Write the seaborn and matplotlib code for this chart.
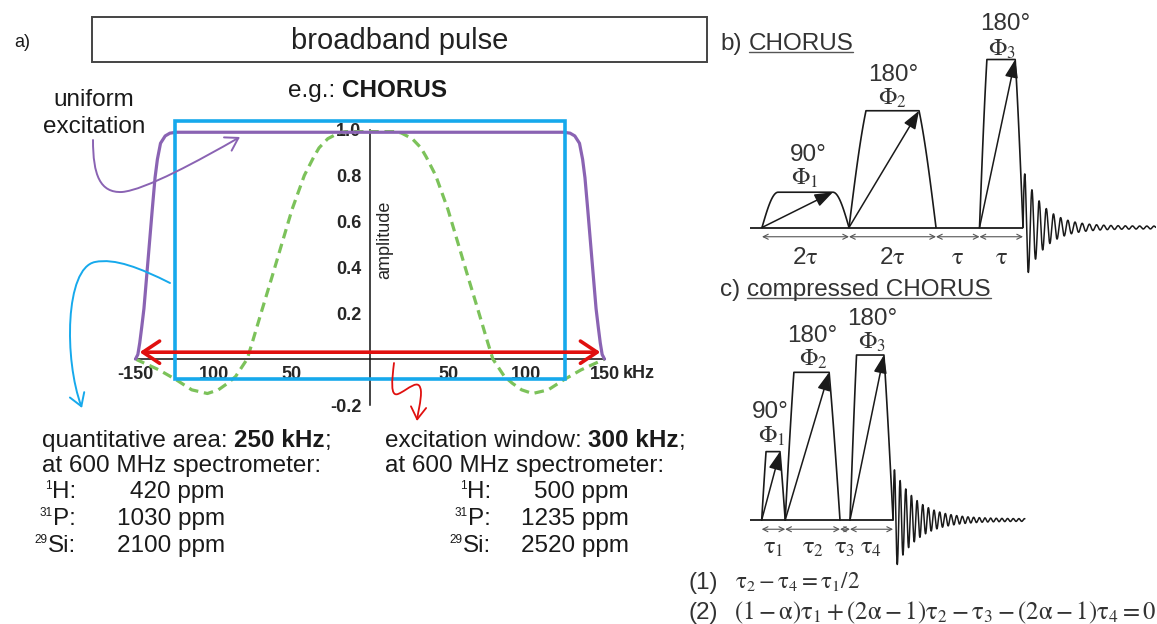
import numpy as np
import matplotlib
matplotlib.use("Agg")
import matplotlib.pyplot as plt
import seaborn as sns
from matplotlib.patches import Rectangle, FancyArrowPatch
from matplotlib.path import Path

# ---------------- excitation profiles (offset in kHz, normalised amplitude) ----------------
chorus_offset = [-150, -148.5, -147.3, -146, -144.6, -142, -139.3, -137.5, -136, -134,
                 -131, -128, -124, 0, 124, 128, 131, 134, 136, 137.5, 139.3, 142,
                 144.6, 146, 147.3, 148.5, 150]
chorus_amp = [0.0, 0.02, 0.07, 0.14, 0.22, 0.43, 0.65, 0.79, 0.87, 0.94,
              0.972, 0.984, 0.988, 0.988, 0.988, 0.984, 0.972, 0.94, 0.87, 0.79, 0.65, 0.43,
              0.22, 0.14, 0.07, 0.02, 0.0]

single_offset = [-150, -142, -135, -124, -114, -104, -97, -91, -86, -82,
                 -78.6, -75.4, -69, -62.6, -56.2, -49.8, -42, -36, -32.6, -27,
                 -20, -11.5, 0, 11.5, 20, 27, 32.6, 36, 42, 49.8,
                 56.2, 62.6, 69, 75.4, 78.6, 82, 86, 91, 97, 104,
                 114, 124, 135, 142, 150]
single_amp = [0.0, -0.025, -0.047, -0.09, -0.134, -0.15, -0.134, -0.105, -0.076, -0.035,
              0.0, 0.07, 0.216, 0.36, 0.507, 0.653, 0.80, 0.88, 0.92, 0.96,
              0.985, 0.997, 1.0, 0.997, 0.985, 0.96, 0.92, 0.88, 0.80, 0.653,
              0.507, 0.36, 0.216, 0.07, 0.0, -0.035, -0.076, -0.105, -0.134, -0.15,
              -0.134, -0.09, -0.047, -0.025, 0.0]

quant_window_khz = 250
excite_window_khz = 300

ytick_vals = [-0.2, 0.2, 0.4, 0.6, 0.8, 1.0]
xtick_vals = [-150, -100, -50, 50, 100, 150]
xtick_text = ["-150", "100", "50", "50", "100", "150"]

# bandwidth converted to ppm at a 600 MHz spectrometer
nuclei_mass = ["1", "31", "29"]
nuclei_symbol = ["H", "P", "Si"]
ppm_quant = [420, 1030, 2100]
ppm_excite = [500, 1235, 2520]

# ---------------- pulse sequences (time in units of tau) ----------------
chorus_delays = [2, 2, 1, 1]
chorus_delay_text = [r"2$\mathrm{\tau}$", r"2$\mathrm{\tau}$", r"$\mathrm{\tau}$", r"$\mathrm{\tau}$"]
chorus_pulses = [(0, 2), (2, 4), (5, 6)]
chorus_height = [0.21, 0.695, 1.0]
chorus_rise = [0.37, 0.39, 0.17]
chorus_fall = [0.37, 0.39, 0.18]
chorus_round = [1.0, 0.3, 0.25]

comp_tau1, comp_tau4, comp_tau3 = 0.54, 0.99, 0.23
comp_tau2 = comp_tau4 + comp_tau1 / 2
comp_delays = [comp_tau1, comp_tau2, comp_tau3, comp_tau4]
comp_delay_text = [r"$\mathrm{\tau_1}$", r"$\mathrm{\tau_2}$", r"$\mathrm{\tau_3}$", r"$\mathrm{\tau_4}$"]
comp_height = [0.407, 0.879, 0.982]
comp_rise = [0.10, 0.20, 0.15]
comp_fall = [0.12, 0.25, 0.21]
comp_round = [0.1, 0.15, 0.15]

flip_text = ["90°", "180°", "180°"]
phase_text = [r"$\Phi_1$", r"$\Phi_2$", r"$\Phi_3$"]

# ---------------- style ----------------
sns.set_style("white")
plt.rcParams["font.family"] = ["Liberation Sans", "DejaVu Sans"]
PURPLE = "#8a63b3"
GREEN = "#7cc25a"
BLUE = "#16a9ec"
RED = "#e0100f"
INK = "#1a1a1a"
GREY = "#333333"
TXT = 17.5

W, H = 1157, 624
fig = plt.figure(figsize=(W / 100, H / 100), dpi=100)
fig.patch.set_facecolor("white")


def px_axes(left, right, top, bottom, **kw):
    return fig.add_axes([left / W, 1 - bottom / H, (right - left) / W, (bottom - top) / H], **kw)


# ---------------- a) excitation profile ----------------
ax = px_axes(135.5, 604.5, 129.5, 405)
ax.patch.set_alpha(0)
ax.set_xlim(-150, 150)
ax.set_ylim(-0.2, 1.0)

sns.lineplot(x=single_offset, y=single_amp, ax=ax, color=GREEN, lw=2.3,
             linestyle=(0, (3, 1.8)), zorder=2)
sns.lineplot(x=chorus_offset, y=chorus_amp, ax=ax, color=PURPLE, lw=2.3, zorder=3,
             clip_on=False)

half_q = quant_window_khz / 2
ax.add_patch(Rectangle((-half_q, -0.087), 2 * half_q, 1.123, fill=False,
                       edgecolor=BLUE, lw=2.6, clip_on=False, zorder=4))

half_e = excite_window_khz / 2
ax.annotate("", xy=(half_e, 0.03), xytext=(-half_e, 0.03),
            arrowprops=dict(arrowstyle="<->,head_length=0.75,head_width=0.5",
                            mutation_scale=16, color=RED, lw=2.6,
                            shrinkA=3, shrinkB=3),
            zorder=5, annotation_clip=False)

for side in ("top", "right"):
    ax.spines[side].set_visible(False)
ax.spines["left"].set_position(("data", 0))
ax.spines["bottom"].set_position(("data", 0))
for side in ("left", "bottom"):
    ax.spines[side].set_linewidth(1.1)
    ax.spines[side].set_color("#111111")
    ax.spines[side].set_zorder(1)

ax.set_xticks(xtick_vals)
ax.set_xticks(np.arange(-150, 151, 10), minor=True)
ax.set_xticklabels(xtick_text, fontweight="bold", fontsize=13)
ax.set_yticks(ytick_vals)
ax.set_yticklabels([f"{v:.1f}" for v in ytick_vals], fontweight="bold", fontsize=13)
ax.tick_params(axis="x", which="both", direction="out", length=3.8, width=1.0,
               pad=1.2, color="#111111")
ax.tick_params(axis="y", which="both", direction="out", length=3.8, width=1.0,
               pad=2.5, color="#111111")
ax.set_xlabel("")
ax.set_ylabel("")
ax.annotate("kHz", xy=(150, 0), xytext=(13, -10.5), textcoords="offset points",
            ha="left", va="center", fontsize=13, fontweight="bold")
ax.text(9.5, 0.52, "amplitude", rotation=90, ha="center", va="center", fontsize=13)


# ---------------- pulse-sequence schematics ----------------
def pulse_outline(t0, t1, h, rise, fall, rnd):
    s = np.linspace(0, 1, 40)
    shape = (1 - rnd) * s + rnd * np.sin(np.pi / 2 * s)
    x = np.concatenate([t0 + rise * s, t1 - fall * s[::-1]])
    y = np.concatenate([h * shape, h * shape[::-1]])
    return x, y


def draw_sequence(sax, pulses, heights, rise, fall, rnd, delays, delay_text,
                  label_pos, t_end, fid_amp, fid_decay, fid_period, fid_floor, x0):
    t_fid = pulses[-1][1]
    sax.plot([x0, t_fid], [0, 0], color=INK, lw=1.3, solid_capstyle="butt")
    for (t0, t1), h, r, f, rr in zip(pulses, heights, rise, fall, rnd):
        px, py = pulse_outline(t0, t1, h, r, f, rr)
        sax.plot(px, py, color=INK, lw=1.2)
        sax.annotate("", xy=(t1 - f, h), xytext=(t0, 0),
                     arrowprops=dict(arrowstyle="-|>,head_length=0.55,head_width=0.2",
                                     mutation_scale=20, color=INK, lw=1.1,
                                     shrinkA=0, shrinkB=0))
    # evolution periods
    edges = np.concatenate([[0], np.cumsum(delays)])
    for a, b, lab in zip(edges[:-1], edges[1:], delay_text):
        sax.annotate("", xy=(b, -0.055), xytext=(a, -0.055),
                     arrowprops=dict(arrowstyle="<->,head_length=0.4,head_width=0.2",
                                     mutation_scale=9, color="#555555", lw=0.8,
                                     shrinkA=0, shrinkB=0))
        sax.text((a + b) / 2, label_pos["delay_y"], lab, ha="center", va="center",
                 fontsize=TXT, color=GREY, math_fontfamily="stix")
    for (fx, fy), (qx, qy), ft, pt in zip(label_pos["flip"], label_pos["phase"],
                                          flip_text, phase_text):
        sax.text(fx, fy, ft, ha="center", va="center", fontsize=TXT, color=GREY)
        sax.text(qx, qy, pt, ha="center", va="center", fontsize=TXT, color=GREY,
                 math_fontfamily="stix")
    # free induction decay
    t = np.linspace(t_fid, t_end, 2500)
    env = fid_amp * np.exp(-fid_decay * (t - t_fid)) + fid_floor
    sax.plot(t, env * np.sin(2 * np.pi * (t - t_fid) / fid_period), color=INK, lw=1.1)
    sax.axis("off")


bax = px_axes(748.95, 1155.7, 17.5, 303.1)
bax.set_xlim(-0.3, 9.05)
bax.set_ylim(-0.45, 1.25)
draw_sequence(bax, chorus_pulses, chorus_height, chorus_rise, chorus_fall, chorus_round,
              chorus_delays, chorus_delay_text,
              dict(delay_y=-0.18,
                   flip=[(1.06, 0.43), (3.01, 0.905), (5.59, 1.21)],
                   phase=[(0.99, 0.29), (3.01, 0.77), (5.52, 1.06)]),
              9.05, 0.34, 2.2, 0.165, 0.008, -0.28)

comp_edges = np.concatenate([[0], np.cumsum(comp_delays)])
comp_pulses = [(comp_edges[0], comp_edges[1]), (comp_edges[1], comp_edges[2]),
               (comp_edges[3], comp_edges[4])]
cax = px_axes(748.65, 1027.05, 310, 578.8)
cax.set_xlim(-0.3, 6.1)
cax.set_ylim(-0.35, 1.25)
draw_sequence(cax, comp_pulses, comp_height, comp_rise, comp_fall, comp_round,
              comp_delays, comp_delay_text,
              dict(delay_y=-0.165,
                   flip=[(0.19, 0.64), (1.16, 1.095), (2.54, 1.196)],
                   phase=[(0.24, 0.50), (1.18, 0.955), (2.54, 1.055)]),
              6.05, 0.31, 1.9, 0.13, 0.007, -0.28)

# ---------------- annotations and text (pixel overlay) ----------------
ov = px_axes(0, W, 0, H)
ov.set_xlim(0, W)
ov.set_ylim(H, 0)
ov.axis("off")
ov.set_zorder(10)
rend = fig.canvas.get_renderer()


def text_run(x, y, pieces, size=TXT, color=INK):
    last = None
    for s, weight, gap in pieces:
        last = ov.text(x, y, s, fontsize=size, fontweight=weight, color=color,
                       ha="left", va="baseline")
        x = last.get_window_extent(rend).x1 + gap
    return last


def curve_arrow(points, color, lw, hl=0.8, hw=0.5, ms=11):
    codes = [Path.MOVETO] + [Path.CURVE4] * (len(points) - 1)
    ov.add_patch(FancyArrowPatch(path=Path(points, codes),
                                 arrowstyle=f"->,head_length={hl},head_width={hw}",
                                 mutation_scale=ms, color=color, lw=lw))


ov.text(14, 47, "a)", fontsize=13, color=INK, va="baseline")
ov.add_patch(Rectangle((92, 17), 615, 45, fill=False, edgecolor="#444444", lw=1.4))
ov.text(400, 49, "broadband pulse", fontsize=21, color="#222222", ha="center", va="baseline")
text_run(288, 97, [("e.g.:", "normal", 6.5), ("CHORUS", "bold", 0)])
ov.text(94, 106, "uniform", fontsize=TXT, ha="center", va="baseline", color=INK)
ov.text(94, 133, "excitation", fontsize=TXT, ha="center", va="baseline", color=INK)

curve_arrow([(93, 140), (93, 175), (100, 193), (122, 192), (145, 190), (200, 160), (240, 137)],
            PURPLE, 1.4)
curve_arrow([(170, 283), (140, 268), (115, 258), (95, 262), (65, 268), (64, 360), (82, 408)],
            BLUE, 1.4)
curve_arrow([(394, 363), (392, 380), (390, 397), (398, 394), (408, 390), (420, 376),
             (421, 392), (421, 402), (418, 412), (417, 421)], RED, 1.3)

# bandwidth summaries
text_run(42, 447, [("quantitative area:", "normal", 6.5), (f"{quant_window_khz} kHz", "bold", 0),
                   (";", "normal", 0)])
ov.text(42, 472, "at 600 MHz spectrometer:", fontsize=TXT, va="baseline", color=INK)
text_run(385, 447, [("excitation window:", "normal", 6.5), (f"{excite_window_khz} kHz", "bold", 0),
                    (";", "normal", 0)])
ov.text(385, 472, "at 600 MHz spectrometer:", fontsize=TXT, va="baseline", color=INK)


def nucleus_rows(x_sym, x_val, values):
    for y, m, s, v in zip([498, 525, 552], nuclei_mass, nuclei_symbol, values):
        t = ov.text(x_sym, y, f"{s}:", fontsize=TXT, ha="right", va="baseline", color=INK)
        bb = t.get_window_extent(rend)
        ov.text(bb.x0 - 0.5, y - 9, m, fontsize=8.5, ha="right", va="baseline", color=INK)
        ov.text(x_val, y, f"{v} ppm", fontsize=TXT, ha="right", va="baseline", color=INK)


nucleus_rows(76, 225, ppm_quant)
nucleus_rows(491, 629, ppm_excite)

# panel titles with underlined sequence names
for y, name in [(50, "CHORUS"), (296, "compressed CHORUS")]:
    lab = "b)" if y == 50 else "c)"
    t = ov.text(720, y, lab, fontsize=TXT, color=GREY, va="baseline")
    x = t.get_window_extent(rend).x1 + 7
    tn = ov.text(x, y, name, fontsize=TXT, color=GREY, va="baseline")
    bb = tn.get_window_extent(rend)
    ov.plot([bb.x0, bb.x1], [y + 2, y + 2], color="#555555", lw=1.0)

# timing conditions for compressed CHORUS
ov.text(688, 589, "(1)", fontsize=TXT, color=GREY, va="baseline")
ov.text(735, 589, r"$\mathrm{\tau_2 - \tau_4 = \tau_1/2}$", fontsize=16.5, color=GREY,
        va="baseline", math_fontfamily="stix")
ov.text(688, 619, "(2)", fontsize=TXT, color=GREY, va="baseline")
ov.text(734, 619, r"$\mathrm{(1-\alpha)\tau_1 + (2\alpha-1)\tau_2 - \tau_3 - (2\alpha-1)\tau_4 = 0}$",
        fontsize=17.8, color=GREY, va="baseline", math_fontfamily="stix")

fig.savefig("out.png", dpi=100)
